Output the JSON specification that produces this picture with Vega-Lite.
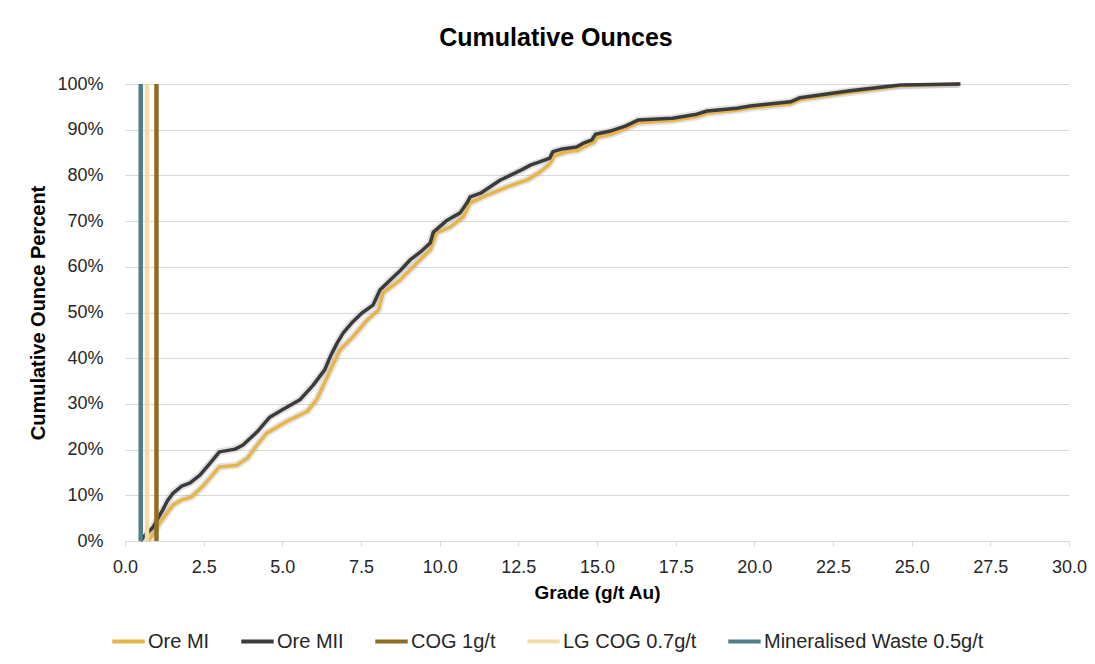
{
  "$schema": "https://vega.github.io/schema/vega-lite/v6.json",
  "autosize": {"type": "none"},
  "width": 944,
  "height": 457,
  "padding": {"left": 125, "top": 84, "right": 26, "bottom": 123},
  "background": "white",
  "title": {
    "text": "Cumulative Ounces",
    "font": "Liberation Sans",
    "fontSize": 25,
    "fontWeight": "bold",
    "color": "#000000",
    "frame": "group",
    "anchor": "middle",
    "baseline": "alphabetic",
    "offset": 4,
    "dx": -41
  },
  "config": {
    "view": {"stroke": null},
    "font": "Liberation Sans",
    "axis": {
      "labelFont": "Liberation Sans",
      "titleFont": "Liberation Sans",
      "labelColor": "#262626",
      "titleColor": "#000000",
      "titleFontWeight": "bold"
    },
    "legend": {
      "labelFont": "Liberation Sans",
      "labelColor": "#262626"
    }
  },
  "datasets": {
    "curves": [
      {"series": "Ore MI", "grade": 0.73, "pct": 0.0},
      {"series": "Ore MI", "grade": 0.9, "pct": 0.015},
      {"series": "Ore MI", "grade": 1.1, "pct": 0.039},
      {"series": "Ore MI", "grade": 1.3, "pct": 0.058},
      {"series": "Ore MI", "grade": 1.53, "pct": 0.079},
      {"series": "Ore MI", "grade": 1.8, "pct": 0.09},
      {"series": "Ore MI", "grade": 2.1, "pct": 0.096},
      {"series": "Ore MI", "grade": 2.45, "pct": 0.118},
      {"series": "Ore MI", "grade": 2.75, "pct": 0.142},
      {"series": "Ore MI", "grade": 3.0, "pct": 0.162},
      {"series": "Ore MI", "grade": 3.56, "pct": 0.166},
      {"series": "Ore MI", "grade": 3.9, "pct": 0.182},
      {"series": "Ore MI", "grade": 4.2, "pct": 0.21},
      {"series": "Ore MI", "grade": 4.5, "pct": 0.236},
      {"series": "Ore MI", "grade": 5.15, "pct": 0.262},
      {"series": "Ore MI", "grade": 5.8, "pct": 0.284},
      {"series": "Ore MI", "grade": 6.1, "pct": 0.31},
      {"series": "Ore MI", "grade": 6.42, "pct": 0.358},
      {"series": "Ore MI", "grade": 6.83, "pct": 0.418},
      {"series": "Ore MI", "grade": 7.25, "pct": 0.447},
      {"series": "Ore MI", "grade": 7.7, "pct": 0.484},
      {"series": "Ore MI", "grade": 8.05, "pct": 0.505},
      {"series": "Ore MI", "grade": 8.2, "pct": 0.543},
      {"series": "Ore MI", "grade": 8.74, "pct": 0.571},
      {"series": "Ore MI", "grade": 9.27, "pct": 0.608},
      {"series": "Ore MI", "grade": 9.7, "pct": 0.637},
      {"series": "Ore MI", "grade": 9.9, "pct": 0.674},
      {"series": "Ore MI", "grade": 10.33, "pct": 0.687},
      {"series": "Ore MI", "grade": 10.75, "pct": 0.709},
      {"series": "Ore MI", "grade": 10.97, "pct": 0.74},
      {"series": "Ore MI", "grade": 11.38, "pct": 0.753},
      {"series": "Ore MI", "grade": 12.15, "pct": 0.775},
      {"series": "Ore MI", "grade": 12.78, "pct": 0.79},
      {"series": "Ore MI", "grade": 13.2, "pct": 0.808},
      {"series": "Ore MI", "grade": 13.5, "pct": 0.825},
      {"series": "Ore MI", "grade": 13.65, "pct": 0.843},
      {"series": "Ore MI", "grade": 14.0, "pct": 0.851},
      {"series": "Ore MI", "grade": 14.4, "pct": 0.855},
      {"series": "Ore MI", "grade": 14.6, "pct": 0.863},
      {"series": "Ore MI", "grade": 14.9, "pct": 0.872},
      {"series": "Ore MI", "grade": 15.0, "pct": 0.883},
      {"series": "Ore MI", "grade": 15.45, "pct": 0.89},
      {"series": "Ore MI", "grade": 15.9, "pct": 0.902},
      {"series": "Ore MI", "grade": 16.3, "pct": 0.915},
      {"series": "Ore MI", "grade": 17.4, "pct": 0.92},
      {"series": "Ore MI", "grade": 18.2, "pct": 0.929},
      {"series": "Ore MI", "grade": 18.5, "pct": 0.936},
      {"series": "Ore MI", "grade": 19.45, "pct": 0.943},
      {"series": "Ore MI", "grade": 19.9, "pct": 0.948},
      {"series": "Ore MI", "grade": 21.15, "pct": 0.957},
      {"series": "Ore MI", "grade": 21.46, "pct": 0.966},
      {"series": "Ore MI", "grade": 23.05, "pct": 0.982},
      {"series": "Ore MI", "grade": 24.64, "pct": 0.996},
      {"series": "Ore MI", "grade": 26.5, "pct": 1.0},
      {"series": "Ore MII", "grade": 0.5, "pct": 0.0},
      {"series": "Ore MII", "grade": 0.6, "pct": 0.01},
      {"series": "Ore MII", "grade": 0.75, "pct": 0.02},
      {"series": "Ore MII", "grade": 0.89, "pct": 0.03},
      {"series": "Ore MII", "grade": 1.05, "pct": 0.05},
      {"series": "Ore MII", "grade": 1.2, "pct": 0.068},
      {"series": "Ore MII", "grade": 1.35, "pct": 0.088},
      {"series": "Ore MII", "grade": 1.53, "pct": 0.105},
      {"series": "Ore MII", "grade": 1.8, "pct": 0.12},
      {"series": "Ore MII", "grade": 2.07, "pct": 0.127},
      {"series": "Ore MII", "grade": 2.38, "pct": 0.144},
      {"series": "Ore MII", "grade": 2.7, "pct": 0.17},
      {"series": "Ore MII", "grade": 3.0, "pct": 0.195},
      {"series": "Ore MII", "grade": 3.5, "pct": 0.201},
      {"series": "Ore MII", "grade": 3.75, "pct": 0.21},
      {"series": "Ore MII", "grade": 4.2, "pct": 0.239},
      {"series": "Ore MII", "grade": 4.6, "pct": 0.271},
      {"series": "Ore MII", "grade": 5.0, "pct": 0.287},
      {"series": "Ore MII", "grade": 5.56, "pct": 0.309},
      {"series": "Ore MII", "grade": 5.98, "pct": 0.341},
      {"series": "Ore MII", "grade": 6.1, "pct": 0.352},
      {"series": "Ore MII", "grade": 6.35, "pct": 0.375},
      {"series": "Ore MII", "grade": 6.52, "pct": 0.403},
      {"series": "Ore MII", "grade": 6.74, "pct": 0.433},
      {"series": "Ore MII", "grade": 6.93, "pct": 0.455},
      {"series": "Ore MII", "grade": 7.2, "pct": 0.477},
      {"series": "Ore MII", "grade": 7.53, "pct": 0.499},
      {"series": "Ore MII", "grade": 7.88, "pct": 0.516},
      {"series": "Ore MII", "grade": 8.1, "pct": 0.549},
      {"series": "Ore MII", "grade": 8.43, "pct": 0.571},
      {"series": "Ore MII", "grade": 8.75, "pct": 0.592},
      {"series": "Ore MII", "grade": 9.06, "pct": 0.615},
      {"series": "Ore MII", "grade": 9.38, "pct": 0.632},
      {"series": "Ore MII", "grade": 9.7, "pct": 0.652},
      {"series": "Ore MII", "grade": 9.8, "pct": 0.676},
      {"series": "Ore MII", "grade": 10.24, "pct": 0.702},
      {"series": "Ore MII", "grade": 10.65, "pct": 0.718},
      {"series": "Ore MII", "grade": 10.87, "pct": 0.74},
      {"series": "Ore MII", "grade": 10.97, "pct": 0.753},
      {"series": "Ore MII", "grade": 11.3, "pct": 0.761},
      {"series": "Ore MII", "grade": 11.93, "pct": 0.79},
      {"series": "Ore MII", "grade": 12.24, "pct": 0.8},
      {"series": "Ore MII", "grade": 12.6, "pct": 0.812},
      {"series": "Ore MII", "grade": 12.9, "pct": 0.823},
      {"series": "Ore MII", "grade": 13.2, "pct": 0.83},
      {"series": "Ore MII", "grade": 13.5, "pct": 0.838},
      {"series": "Ore MII", "grade": 13.6, "pct": 0.852},
      {"series": "Ore MII", "grade": 13.9, "pct": 0.858},
      {"series": "Ore MII", "grade": 14.35, "pct": 0.862},
      {"series": "Ore MII", "grade": 14.55, "pct": 0.87},
      {"series": "Ore MII", "grade": 14.84, "pct": 0.878},
      {"series": "Ore MII", "grade": 14.95, "pct": 0.89},
      {"series": "Ore MII", "grade": 15.42, "pct": 0.897},
      {"series": "Ore MII", "grade": 15.9, "pct": 0.908},
      {"series": "Ore MII", "grade": 16.3, "pct": 0.921},
      {"series": "Ore MII", "grade": 17.4, "pct": 0.925},
      {"series": "Ore MII", "grade": 18.17, "pct": 0.934},
      {"series": "Ore MII", "grade": 18.5, "pct": 0.941},
      {"series": "Ore MII", "grade": 19.45, "pct": 0.947},
      {"series": "Ore MII", "grade": 19.87, "pct": 0.952},
      {"series": "Ore MII", "grade": 21.15, "pct": 0.961},
      {"series": "Ore MII", "grade": 21.46, "pct": 0.97},
      {"series": "Ore MII", "grade": 23.05, "pct": 0.985},
      {"series": "Ore MII", "grade": 24.64, "pct": 0.998},
      {"series": "Ore MII", "grade": 26.55, "pct": 1.0}
    ],
    "cutoffs": [
      {"series": "Mineralised Waste 0.5g/t", "grade": 0.5},
      {"series": "LG COG 0.7g/t", "grade": 0.7},
      {"series": "COG 1g/t", "grade": 1.0}
    ]
  },
  "layer": [
    {
      "data": {"name": "curves"},
      "mark": {"type": "line", "strokeWidth": 7.5, "color": "#808080", "opacity": 0.22, "strokeJoin": "round", "clip": true},
      "encoding": {
        "x": {"field": "grade", "type": "quantitative"},
        "y": {"field": "pct", "type": "quantitative"},
        "detail": {"field": "series", "type": "nominal"}
      }
    },
    {
      "data": {"name": "curves"},
      "mark": {"type": "line", "strokeWidth": 3.5, "strokeJoin": "round"},
      "encoding": {
        "x": {
          "field": "grade",
          "type": "quantitative",
          "scale": {"domain": [0, 30], "nice": false, "zero": false},
          "axis": {
            "title": "Grade (g/t Au)",
            "titleFontSize": 19,
            "titlePadding": 7,
            "values": [0, 2.5, 5, 7.5, 10, 12.5, 15, 17.5, 20, 22.5, 25, 27.5, 30],
            "format": ".1f",
            "labelFontSize": 18,
            "labelPadding": 12,
            "grid": false,
            "domainColor": "#d9d9d9",
            "domainWidth": 1,
            "tickColor": "#d9d9d9",
            "tickSize": 5,
            "labelFlush": false,
            "labelOverlap": false
          }
        },
        "y": {
          "field": "pct",
          "type": "quantitative",
          "scale": {"domain": [0, 1], "nice": false},
          "axis": {
            "title": "Cumulative Ounce Percent",
            "titleFontSize": 20,
            "titlePadding": 8,
            "values": [0, 0.1, 0.2, 0.3, 0.4, 0.5, 0.6, 0.7, 0.8, 0.9, 1.0],
            "format": ".0%",
            "labelFontSize": 18,
            "labelPadding": 22,
            "domain": false,
            "ticks": false,
            "grid": true,
            "gridColor": "#d9d9d9",
            "gridWidth": 1,
            "labelFlush": false,
            "labelOverlap": false
          }
        },
        "color": {
          "field": "series",
          "type": "nominal",
          "scale": {
            "domain": ["Ore MI", "Ore MII", "COG 1g/t", "LG COG 0.7g/t", "Mineralised Waste 0.5g/t"],
            "range": ["#E8B54A", "#3B3B3B", "#8C6D23", "#F3DDA6", "#4F7F87"]
          },
          "legend": {
            "title": null,
            "orient": "none",
            "legendX": -15,
            "legendY": 539,
            "direction": "horizontal",
            "columns": 5,
            "gridAlign": "none",
            "symbolType": "stroke",
            "symbolSize": 1050,
            "symbolStrokeWidth": 4,
            "labelFontSize": 20,
            "labelOffset": 1,
            "labelLimit": 500,
            "columnPadding": 23,
            "padding": 0
          }
        }
      }
    },
    {
      "data": {"name": "cutoffs"},
      "mark": {"type": "rule", "strokeWidth": 4.5},
      "encoding": {
        "x": {"field": "grade", "type": "quantitative"},
        "color": {"field": "series", "type": "nominal"}
      }
    }
  ]
}
